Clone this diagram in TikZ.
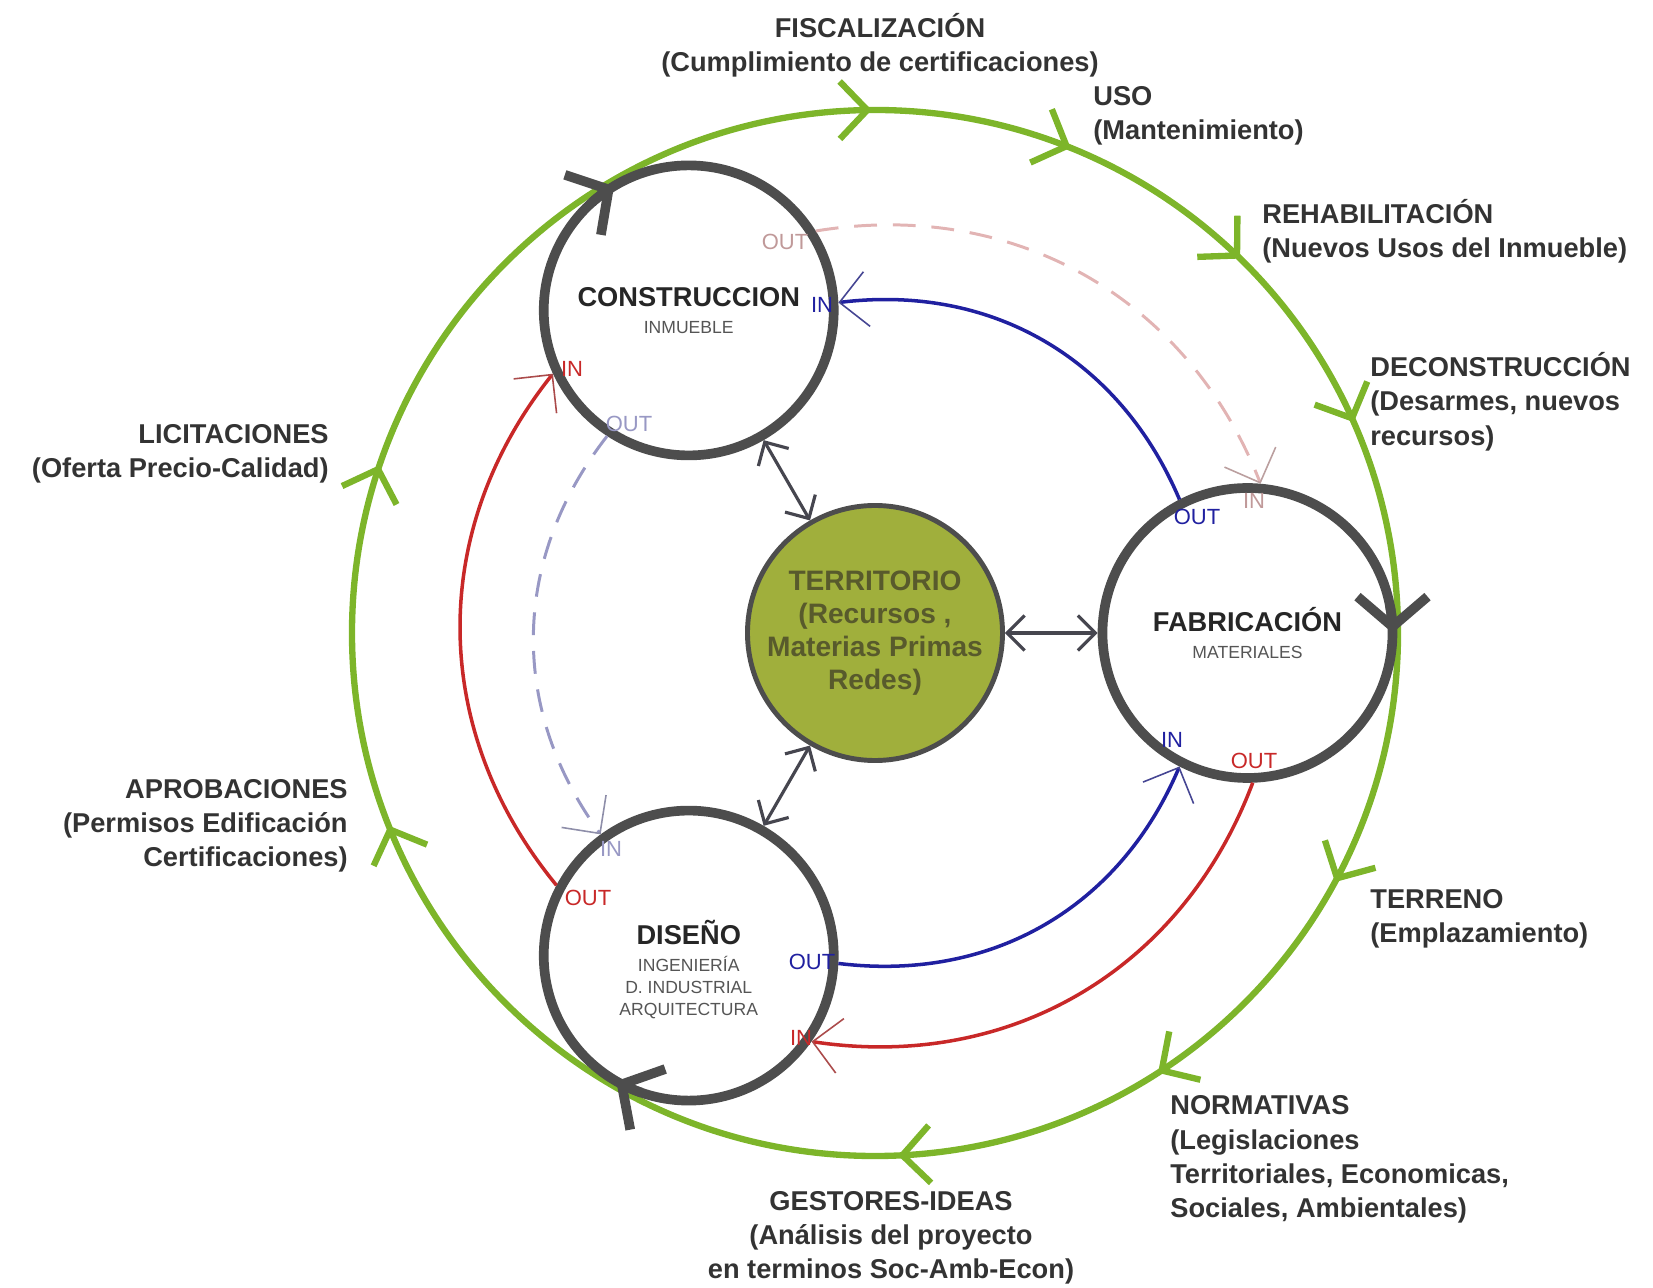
\documentclass[tikz,border=0pt]{standalone}
\usepackage{fontspec}
\setmainfont{Liberation Sans}
\usepackage{tikz}
\usetikzlibrary{arrows.meta,calc,shapes,decorations.markings}
\tikzset{>={Straight Barb[length=3.5mm,width=7mm]}}
\definecolor{ringgray}{HTML}{4D4D4D}
\definecolor{linkgray}{HTML}{46464F}
\definecolor{cyclegreen}{HTML}{7DB52A}
\definecolor{terrfill}{HTML}{A0AF3C}
\definecolor{terrtext}{HTML}{585A2C}
\definecolor{lblgray}{HTML}{333333}
\definecolor{subgray}{HTML}{555555}
\definecolor{flowblue}{HTML}{2020A0}
\definecolor{flowred}{HTML}{C82828}
\definecolor{flowpink}{HTML}{E2B4B4}
\definecolor{flowlav}{HTML}{9898C4}
\tikzstyle{ring}=[circle,draw=ringgray,line width=5.5pt,fill=white,minimum size=5.8cm,inner sep=0pt,align=center,text=subgray,font=\fontsize{10}{12.5}\selectfont]
\tikzstyle{core}=[circle,draw=ringgray,line width=2.8pt,fill=terrfill,minimum size=5.1cm,inner sep=0pt,align=center,text=terrtext,font=\bfseries\fontsize{16}{18.7}\selectfont]
\tikzstyle{stage}=[inner sep=0pt,text=lblgray,font=\bfseries\fontsize{15.5}{19.5}\selectfont]
\tikzstyle{io}=[inner sep=0pt,font=\fontsize{12.5}{14}\selectfont]
\tikzstyle{link}=[<->,draw=linkgray,line width=1.8pt]
\tikzstyle{ringtip}=[draw=ringgray,line width=5.5pt,-{Straight Barb[length=6mm,width=14mm]}]
\tikzstyle{cycle}=[color=cyclegreen,line width=3.6pt,>={Straight Barb[length=5.5mm,width=11.5mm]},postaction={decorate},
	decoration={markings,
		mark=at position 0.079 with {\arrow{>}},
		mark=at position 0.159 with {\arrow{>}},
		mark=at position 0.243 with {\arrow{>}},
		mark=at position 0.440 with {\arrow{>}},
		mark=at position 0.552 with {\arrow{>}},
		mark=at position 0.749 with {\arrow{>}},
		mark=at position 0.811 with {\arrow{>}},
		mark=at position 0.873 with {\arrow{>}},
		mark=at position 0.934 with {\arrow{>}}}]
\tikzset{flow/.style={draw=#1,line width=2pt,-{Straight Barb[length=5.5mm,width=11mm,line width=0.9pt,color=#1!60!gray]}},
	dflow/.style={flow=#1,line width=1.7pt,dash pattern=on 13pt off 9pt}}

\begin{document}
\begin{tikzpicture}
	\useasboundingbox (-17.5,-13.1) rectangle (15.56,12.66);
	\draw[cycle] (0:10.46) arc[start angle=360,end angle=0,radius=10.46];

	\node[ring] (cons) at (120:7.45) {{\bfseries\fontsize{15.5}{12.5}\selectfont\color{black!85}CONSTRUCCION}\\[3pt]INMUEBLE};
	\node[ring] (fab) at (0:7.45) {{\bfseries\fontsize{15.5}{12.5}\selectfont\color{black!85}FABRICACIÓN}\\[3pt]MATERIALES};
	\node[ring] (dis) at (240:7.45) {\rule{0pt}{30pt}{\bfseries\fontsize{15.5}{12.5}\selectfont\color{black!85}DISEÑO}\\[3pt]INGENIERÍA\\D. INDUSTRIAL\\ARQUITECTURA};
	\node[core] (terr) at (0,0) {TERRITORIO\\(Recursos ,\\Materias Primas\\Redes)};

	\draw[ringtip] ($(cons)+(132:2.9)$) arc[start angle=132,end angle=121,radius=2.9];
	\draw[ringtip] ($(fab)+(11:2.9)$) arc[start angle=11,end angle=0,radius=2.9];
	\draw[ringtip] ($(dis)+(251:2.9)$) arc[start angle=251,end angle=240,radius=2.9];

	\draw[flow=flowblue] (fab.117) to[bend right=37] (cons.3);
	\draw[flow=flowblue] (dis.357) to[bend right=37] (fab.243);
	\draw[dflow=flowlav] (cons.237) to[bend right=37] (dis.126);
	\draw[flow=flowred] (dis.152) to[bend left=39] (cons.205);
	\draw[flow=flowred] (fab.272) to[bend left=39] (dis.325);
	\draw[dflow=flowpink] (cons.32) to[bend left=39] (fab.85);

	\draw[link] (cons) -- (terr);
	\draw[link] (terr) -- (fab);
	\draw[link] (dis) -- (terr);

	\node[io,text=flowpink!85!black] (consout1) at (-1.8,7.82) {OUT};
	\node[io,text=flowblue] (consin1) at (-1.06,6.56) {IN};
	\node[io,text=flowred] (consin2) at (-6.06,5.28) {IN};
	\node[io,text=flowlav] (consout2) at (-4.92,4.18) {OUT};
	\node[io,text=flowblue] (fabout1) at (6.44,2.32) {OUT};
	\node[io,text=flowpink!85!black] (fabin1) at (7.58,2.64) {IN};
	\node[io,text=flowblue] (fabin2) at (5.94,-2.14) {IN};
	\node[io,text=flowred] (fabout2) at (7.58,-2.56) {OUT};
	\node[io,text=flowlav] (disin1) at (-5.28,-4.32) {IN};
	\node[io,text=flowred] (disout1) at (-5.74,-5.3) {OUT};
	\node[io,text=flowblue] (disout2) at (-1.26,-6.58) {OUT};
	\node[io,text=flowred] (disin2) at (-1.48,-8.1) {IN};

	\node[stage,align=center] (fisc) at (0.1,11.75) {FISCALIZACIÓN\\(Cumplimiento de certificaciones)};
	\node[stage,align=left,anchor=west] (uso) at (4.36,10.34) {USO\\(Mantenimiento)};
	\node[stage,align=left,anchor=west] (rehab) at (7.74,8.03) {REHABILITACIÓN\\(Nuevos Usos del Inmueble)};
	\node[stage,align=left,anchor=west] (decons) at (9.9,4.63) {DECONSTRUCCIÓN\\(Desarmes, nuevos\\recursos)};
	\node[stage,align=left,anchor=west] (terreno) at (9.9,-5.72) {TERRENO\\(Emplazamiento)};
	\node[stage,align=left,anchor=west] (norm) at (5.9,-10.53) {NORMATIVAS\\(Legislaciones\\Territoriales, Economicas,\\Sociales, Ambientales)};
	\node[stage,align=center] (gest) at (0.32,-12.1) {GESTORES-IDEAS\\(Análisis del proyecto\\en terminos Soc-Amb-Econ)};
	\node[stage,align=right,anchor=east] (aprob) at (-10.54,-3.86) {APROBACIONES\\(Permisos Edificación\\Certificaciones)};
	\node[stage,align=right,anchor=east] (licit) at (-10.92,3.58) {LICITACIONES\\(Oferta Precio-Calidad)};
\end{tikzpicture}
\end{document}
